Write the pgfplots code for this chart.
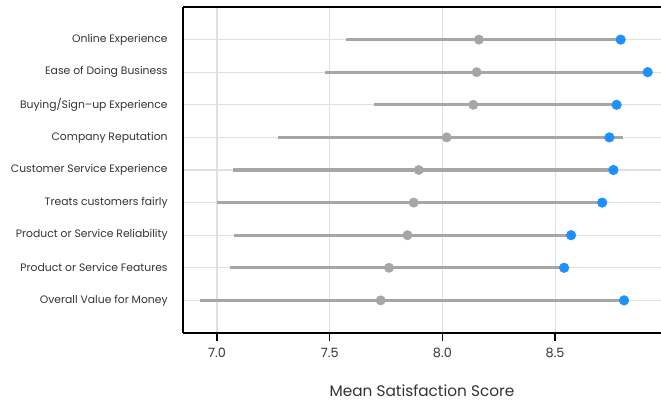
\documentclass[border=0pt]{standalone}
\usepackage{pgfplots}
\pgfplotsset{compat=1.18}
\usepackage{fontspec}
\setmainfont{Poppins}
\definecolor{rng}{HTML}{A6A6A6}
\definecolor{comp}{HTML}{1E90FF}
\definecolor{gridc}{HTML}{E0E0E0}
\definecolor{txt}{HTML}{333333}
\begin{document}
\begin{tikzpicture}
\begin{axis}[
  name=ax,
  scale only axis,
  width=358.5pt, height=244.5pt,
  xmin=6.849, xmax=8.97,
  ymin=0, ymax=10,
  axis x line=box,
  axis y line*=left,
  axis line style={black, line width=0.9pt},
  xtick={7.0,7.5,8.0,8.5},
  xtick pos=lower,
  tick align=outside,
  major tick length=6pt,
  xtick style={black, line width=0.9pt},
  xticklabel style={font=\fontsize{9.6}{11}\selectfont, text=txt, yshift=-2pt, /pgf/number format/fixed, /pgf/number format/fixed zerofill, /pgf/number format/precision=1},
  /pgf/number format/assume math mode=true,
  ytick={1,...,9},
  yticklabels={Overall Value for Money, Product or Service Features, Product or Service Reliability, Treats customers fairly, Customer Service Experience, Company Reputation, Buying/Sign{\textendash}up Experience, Ease of Doing Business, Online Experience},
  yticklabel style={font=\fontsize{8.1}{9}\selectfont, text=txt, xshift=-2pt},
  ytick style={draw=none},
  grid=major,
  major grid style={gridc, line width=0.8pt},
  xlabel={Mean Satisfaction Score},
  xlabel style={font=\fontsize{11.5}{13}\selectfont, text=txt, yshift=-13pt},
  clip=false,
]
% ranges (min to max)
\addplot[rng, line width=2.5pt] coordinates {(7.571,9) (8.791,9)};
\addplot[rng, line width=2.5pt] coordinates {(7.479,8) (8.911,8)};
\addplot[rng, line width=2.5pt] coordinates {(7.698,7) (8.773,7)};
\addplot[rng, line width=2.5pt] coordinates {(7.272,6) (8.800,6)};
\addplot[rng, line width=2.5pt] coordinates {(7.070,5) (8.759,5)};
\addplot[rng, line width=2.5pt] coordinates {(7.000,4) (8.709,4)};
\addplot[rng, line width=2.5pt] coordinates {(7.074,3) (8.571,3)};
\addplot[rng, line width=2.5pt] coordinates {(7.058,2) (8.540,2)};
\addplot[rng, line width=2.5pt] coordinates {(6.925,1) (8.806,1)};
% means
\addplot[only marks, mark=*, mark size=3.5pt, mark options={fill=rng, draw=rng}] coordinates {
(8.162,9) (8.152,8) (8.137,7) (8.019,6) (7.895,5) (7.873,4) (7.845,3) (7.763,2) (7.726,1)};
% company scores
\addplot[only marks, mark=*, mark size=3.6pt, mark options={fill=comp, draw=comp}] coordinates {
(8.791,9) (8.911,8) (8.773,7) (8.741,6) (8.759,5) (8.709,4) (8.571,3) (8.540,2) (8.806,1)};
\end{axis}
\pgfresetboundingbox
\path (ax.south west) ++(-137.25pt,-52.5pt) coordinate (bl);
\path (ax.north east) ++(0pt,5.25pt) coordinate (tr);
\path[use as bounding box] (bl) rectangle (tr);
\end{tikzpicture}
\end{document}
